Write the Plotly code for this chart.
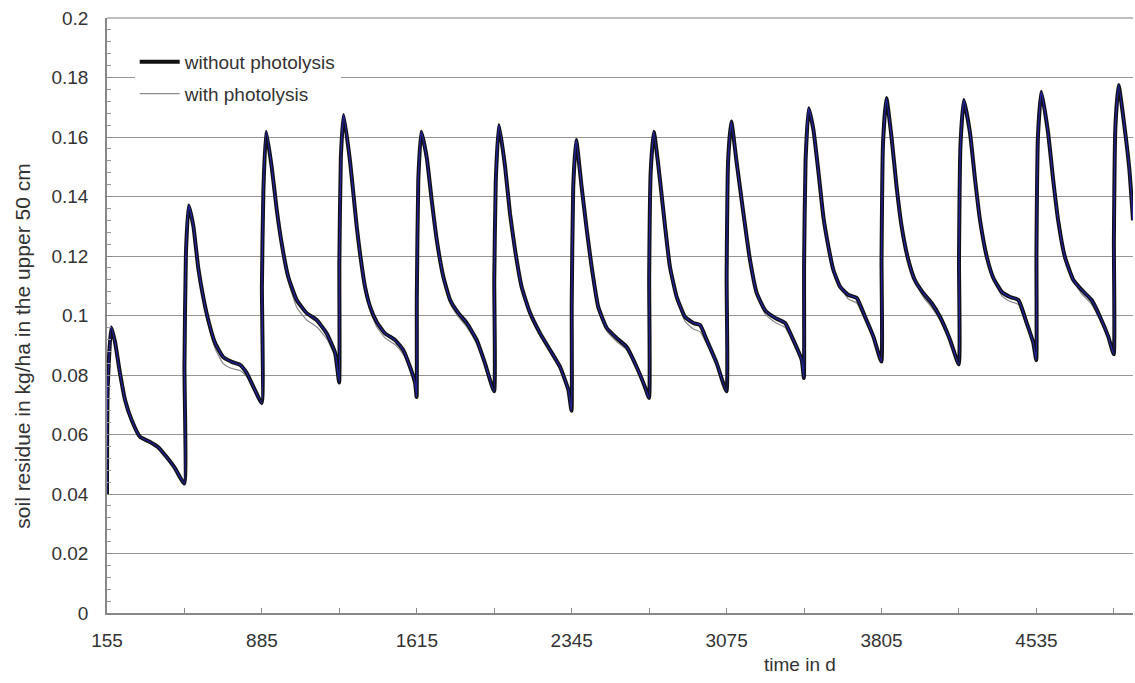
import plotly.graph_objects as go

# ---- data ----
days = [
    155, 158, 175, 193, 216, 240, 271, 311, 358, 395, 436, 475, 519,
    520, 527, 540, 562, 585, 609, 632, 664, 703, 743, 782, 813, 845, 884,
    885, 892, 905, 931, 955, 978, 1009, 1049, 1096, 1143, 1190, 1230, 1249,
    1250, 1257, 1270, 1300, 1316, 1332, 1347, 1371, 1395, 1426, 1465, 1512, 1551, 1583, 1607, 1614,
    1615, 1622, 1636, 1662, 1685, 1709, 1740, 1772, 1811, 1850, 1897, 1936, 1979,
    1980, 1987, 2002, 2031, 2054, 2078, 2109, 2149, 2196, 2243, 2290, 2329, 2344,
    2345, 2352, 2366, 2392, 2416, 2439, 2470, 2510, 2557, 2604, 2651, 2690, 2709,
    2710, 2717, 2732, 2761, 2785, 2808, 2840, 2879, 2918, 2950, 2981, 3028, 3074,
    3075, 3082, 3097, 3123, 3154, 3185, 3217, 3256, 3303, 3350, 3389, 3429, 3439,
    3440, 3447, 3462, 3484, 3508, 3531, 3555, 3578, 3610, 3649, 3688, 3728, 3767, 3804,
    3805, 3812, 3828, 3852, 3876, 3900, 3931, 3962, 4002, 4041, 4081, 4128, 4169,
    4170, 4177, 4193, 4222, 4246, 4269, 4301, 4332, 4372, 4411, 4450, 4489, 4520, 4534,
    4535, 4542, 4558, 4590, 4614, 4637, 4669, 4709, 4748, 4795, 4835, 4874, 4899,
    4900, 4907, 4922, 4950, 4973, 4990,
]

without_photolysis = [
    0.040, 0.075, 0.096, 0.091, 0.0807, 0.0716, 0.0649, 0.0592, 0.0575, 0.0558, 0.0524, 0.0487, 0.0435,
    0.083, 0.121, 0.137, 0.130, 0.116, 0.106, 0.0985, 0.0908, 0.086, 0.0844, 0.0834, 0.0807, 0.076, 0.0706,
    0.110, 0.142, 0.1618, 0.150, 0.1355, 0.1243, 0.113, 0.1052, 0.1008, 0.0985, 0.094, 0.0874, 0.0775,
    0.1176, 0.153, 0.1674, 0.152, 0.141, 0.1298, 0.121, 0.1096, 0.1029, 0.0978, 0.094, 0.0918, 0.0884, 0.0827, 0.0773, 0.0726,
    0.106, 0.1455, 0.1618, 0.153, 0.1388, 0.1254, 0.113, 0.1052, 0.1008, 0.0975, 0.0918, 0.084, 0.0745,
    0.112, 0.145, 0.164, 0.150, 0.1344, 0.122, 0.1096, 0.1008, 0.094, 0.0884, 0.0827, 0.075, 0.068,
    0.104, 0.143, 0.159, 0.143, 0.1287, 0.1163, 0.1029, 0.0958, 0.0924, 0.0894, 0.0827, 0.076, 0.0723,
    0.113, 0.148, 0.1618, 0.1455, 0.1298, 0.1163, 0.1062, 0.0995, 0.0975, 0.0968, 0.0918, 0.084, 0.0745,
    0.113, 0.152, 0.1652, 0.151, 0.1344, 0.1187, 0.1075, 0.1018, 0.0992, 0.0975, 0.0918, 0.085, 0.079,
    0.1176, 0.152, 0.1697, 0.1624, 0.148, 0.1331, 0.123, 0.1153, 0.1096, 0.1069, 0.1059, 0.0995, 0.0928, 0.0845,
    0.1187, 0.158, 0.1731, 0.160, 0.1432, 0.1298, 0.1187, 0.1119, 0.1075, 0.1042, 0.0995, 0.0918, 0.0835,
    0.1187, 0.1573, 0.1724, 0.1613, 0.1455, 0.1321, 0.1197, 0.1126, 0.1079, 0.1062, 0.1052, 0.0975, 0.0908, 0.085,
    0.121, 0.160, 0.1752, 0.1613, 0.1455, 0.1321, 0.1197, 0.1119, 0.1086, 0.1052, 0.0995, 0.0928, 0.087,
    0.1254, 0.1634, 0.1775, 0.1634, 0.149, 0.132,
]

with_photolysis = [
    0.040, 0.075, 0.096, 0.091, 0.0807, 0.0716, 0.0649, 0.0587, 0.0570, 0.0553, 0.0522, 0.0486, 0.0435,
    0.083, 0.121, 0.137, 0.130, 0.116, 0.105, 0.097, 0.089, 0.0838, 0.0822, 0.0815, 0.0795, 0.0752, 0.0706,
    0.110, 0.142, 0.1618, 0.150, 0.1355, 0.1243, 0.1115, 0.1028, 0.0985, 0.0962, 0.0922, 0.0862, 0.0775,
    0.1176, 0.153, 0.1674, 0.152, 0.141, 0.1298, 0.121, 0.1096, 0.1015, 0.0962, 0.0925, 0.0902, 0.0870, 0.0822, 0.0773, 0.0726,
    0.106, 0.1455, 0.1618, 0.153, 0.1388, 0.1254, 0.113, 0.104, 0.0995, 0.0962, 0.0905, 0.0835, 0.0745,
    0.112, 0.145, 0.164, 0.150, 0.1344, 0.122, 0.1096, 0.0998, 0.093, 0.0876, 0.0822, 0.075, 0.068,
    0.104, 0.143, 0.159, 0.143, 0.1287, 0.1163, 0.1029, 0.0948, 0.0912, 0.0884, 0.0822, 0.076, 0.0723,
    0.113, 0.148, 0.1618, 0.1455, 0.1298, 0.1163, 0.1062, 0.098, 0.0955, 0.0945, 0.0905, 0.0835, 0.0745,
    0.113, 0.152, 0.1652, 0.151, 0.1344, 0.1187, 0.1075, 0.1005, 0.0977, 0.096, 0.0908, 0.0845, 0.079,
    0.1176, 0.152, 0.1697, 0.1624, 0.148, 0.1331, 0.123, 0.1153, 0.1096, 0.1055, 0.1042, 0.0982, 0.0922, 0.0845,
    0.1187, 0.158, 0.1731, 0.160, 0.1432, 0.1298, 0.1187, 0.1119, 0.1062, 0.1027, 0.0983, 0.0912, 0.0835,
    0.1187, 0.1573, 0.1724, 0.1613, 0.1455, 0.1321, 0.1197, 0.1126, 0.1066, 0.1047, 0.1037, 0.0963, 0.0903, 0.085,
    0.121, 0.160, 0.1752, 0.1613, 0.1455, 0.1321, 0.1197, 0.1119, 0.1073, 0.1037, 0.0983, 0.0922, 0.087,
    0.1254, 0.1634, 0.1775, 0.1634, 0.149, 0.132,
]

x_tick_vals = [155, 520, 885, 1250, 1615, 1980, 2345, 2710, 3075, 3440, 3805, 4170, 4535, 4900]
x_tick_text = ["155", "", "885", "", "1615", "", "2345", "", "3075", "", "3805", "", "4535", ""]
y_tick_vals = [0, 0.02, 0.04, 0.06, 0.08, 0.1, 0.12, 0.14, 0.16, 0.18, 0.2]
y_tick_text = ["0", "0.02", "0.04", "0.06", "0.08", "0.1", "0.12", "0.14", "0.16", "0.18", "0.2"]

FONT = "Liberation Sans, Arial, sans-serif"
TXT = "#333333"
SMOOTH = dict(shape="spline", smoothing=0.45)

fig = go.Figure()
fig.add_trace(go.Scatter(
    x=days, y=with_photolysis, mode="lines", name="with photolysis",
    line=dict(color="#8a8a8a", width=1.2, **SMOOTH), legendrank=2, legendgroup="b",
))
fig.add_trace(go.Scatter(
    x=days, y=without_photolysis, mode="lines", name="without photolysis",
    line=dict(color="#111111", width=4, **SMOOTH), legendrank=1, legendgroup="a",
))
fig.add_trace(go.Scatter(
    x=days, y=without_photolysis, mode="lines", name="without photolysis (centre)",
    line=dict(color="#22229c", width=1.3, **SMOOTH), showlegend=False,
))

fig.update_layout(
    width=1135, height=683,
    margin=dict(l=107, r=2, t=18, b=70),
    paper_bgcolor="white", plot_bgcolor="white",
    font=dict(family=FONT, size=19, color=TXT),
    showlegend=True,
    legend=dict(
        x=0.027, y=0.958, xanchor="left", yanchor="top",
        bgcolor="white", borderwidth=0,
        font=dict(family=FONT, size=19, color=TXT),
        tracegroupgap=4, itemwidth=40,
    ),
    xaxis=dict(
        range=[155, 4990],
        tickmode="array", tickvals=x_tick_vals, ticktext=x_tick_text,
        ticks="inside", ticklen=5, tickcolor="#888888",
        showline=True, linecolor="#888888", linewidth=1.5,
        showgrid=False, zeroline=False, ticklabelstandoff=9,
        tickfont=dict(family=FONT, size=19, color=TXT),
    ),
    yaxis=dict(
        range=[0, 0.2],
        tickmode="array", tickvals=y_tick_vals, ticktext=y_tick_text,
        ticks="inside", ticklen=5, tickcolor="#888888",
        minor=dict(dtick=0.004, ticks="inside", ticklen=4, tickcolor="#999999", showgrid=False),
        showline=True, linecolor="#888888", linewidth=1.5,
        showgrid=True, gridcolor="#959595", gridwidth=1,
        zeroline=False, ticklabelstandoff=13,
        tickfont=dict(family=FONT, size=19, color=TXT),
    ),
    shapes=[dict(type="line", xref="paper", yref="paper", x0=0, x1=1, y0=1, y1=1,
                 line=dict(color="#aaaaaa", width=1.5))],
    annotations=[
        dict(text="soil residue in kg/ha in the upper 50 cm", xref="paper", yref="paper",
             x=-0.082, y=0.449, xanchor="center", yanchor="middle",
             textangle=-90, showarrow=False,
             font=dict(family=FONT, size=21, color=TXT)),
        dict(text="time in d", xref="paper", yref="paper",
             x=0.675, y=-0.087, xanchor="center", yanchor="middle", showarrow=False,
             font=dict(family=FONT, size=19, color=TXT)),
    ],
)

fig.write_html("out.html")
